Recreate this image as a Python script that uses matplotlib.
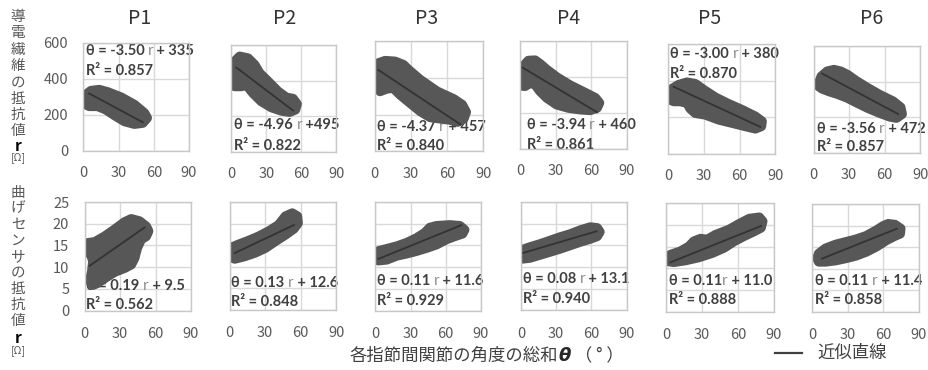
import numpy as np
import matplotlib.pyplot as plt

plt.rcParams['font.family'] = ['Noto Sans CJK JP', 'DejaVu Sans']

panels = ["P1", "P2", "P3", "P4", "P5", "P6"]
theta_ticks = [0, 30, 60, 90]
fiber_ticks = [0, 200, 400, 600]
bend_ticks = [0, 5, 10, 15, 20, 25]

# outline of each point cloud (theta, r)
fiber_x = [
    [1, 2.0, 6.3, 13.4, 20.6, 32, 43.4, 52, 54.3, 50.6, 43.4, 34.9, 26.3, 19.1, 12, 4.9, 1.2],
    [0.6, 2.9, 7.2, 14.3, 20, 24.3, 31.5, 40, 47.1, 52.9, 56.3, 54.9, 50, 42.9, 34.3, 25.7, 18.6, 12.9, 8.6, 2.9, 0],
    [0.3, 3, 8.6, 16.9, 23.8, 28, 37.8, 51.7, 65.5, 72.5, 75.8, 73.8, 68.8, 62.7, 54.4, 46.1, 37.8, 29.4, 21.1, 15.5, 10, 4.4, 1.7, 0.3],
    [0, 0.3, 2.6, 6.8, 12.5, 16.7, 22.4, 30.9, 42.2, 53.6, 63.5, 66.9, 64.9, 59.2, 50.7, 40.8, 30.9, 22.4, 16.7, 12.5, 8.2, 4, 0],
    [0.7, 3, 8.6, 15.6, 22.6, 29.7, 39.5, 50.7, 62, 73.2, 78.8, 78.2, 73.2, 64.7, 53.5, 42.3, 31, 22.6, 18.4, 15.6, 9.9, 4.4, 1.3],
    [4.3, 6.5, 11.4, 17.1, 22.8, 28.5, 35.7, 45.7, 55.7, 67.1, 73.4, 74.6, 69.9, 64.3, 55.7, 45.7, 37.1, 28.5, 20, 12.9, 7.1, 4.3],
]
fiber_y = [
    [283, 311, 333, 339, 326, 297, 256, 209, 182, 154, 148, 163, 197, 228, 247, 247, 259],
    [470, 508, 536, 526, 489, 442, 396, 340, 306, 299, 269, 237, 224, 231, 250, 284, 330, 377, 368, 368, 405],
    [454, 481, 494, 490, 472, 445, 390, 327, 285, 254, 214, 178, 160, 171, 178, 185, 218, 263, 308, 345, 341, 327, 354, 409],
    [376, 413, 460, 491, 493, 473, 441, 399, 354, 317, 284, 256, 228, 215, 219, 228, 246, 284, 321, 358, 367, 349, 352],
    [314, 356, 378, 391, 383, 350, 309, 273, 241, 205, 178, 151, 138, 151, 169, 187, 214, 223, 247, 278, 287, 287, 296],
    [393, 431, 459, 468, 459, 440, 406, 365, 327, 290, 256, 218, 196, 203, 224, 252, 280, 309, 331, 346, 361, 374],
]
bend_x = [
    [0.7, 2.9, 8.6, 17, 25.5, 33.9, 39.5, 46.5, 52.1, 54.1, 52.1, 47.9, 44.5, 42.3, 39.5, 33.9, 25.5, 18.4, 11.4, 7.2, 4.4, 6.3, 7.2, 5.2, 1.5],
    [0, 2, 7.1, 15.7, 24.3, 32.8, 41.4, 47.1, 52.8, 57.1, 57.7, 54.2, 47.1, 38.6, 30, 21.4, 12.9, 4.3, 0.5],
    [0, 2.6, 9.7, 18.2, 26.7, 35.2, 42.2, 46.5, 52.2, 63.5, 72, 76, 74.3, 67.7, 60.7, 52.2, 43.7, 35.2, 26.7, 18.2, 9.7, 2.6],
    [0, 1.5, 7.7, 16.3, 24.9, 33.4, 42, 50.6, 59.1, 64.9, 67.1, 64.9, 59.1, 50.6, 42, 33.4, 24.9, 16.3, 7.7, 1.5],
    [0.4, 3.2, 11.7, 18.8, 23, 28.6, 34.2, 41.2, 52.6, 61, 69.5, 77.9, 80.7, 79.3, 73.7, 65.2, 56.8, 48.3, 38.4, 27.2, 15.9, 6.1, 1.3],
    [4.3, 5.7, 11.4, 20, 28.5, 37.1, 45.7, 54.3, 60, 64.3, 70, 74.8, 74.3, 70, 62.8, 54.3, 45.7, 37.1, 28.5, 20, 11.4, 5.7],
]
bend_y = [
    [14.6, 15.6, 15.8, 17.1, 18.7, 20.4, 21.1, 20.6, 19.4, 18.3, 17.1, 16.4, 14.4, 12.1, 10.6, 9.8, 8.9, 7.7, 6.4, 5.9, 6.8, 9.1, 11.4, 13.1, 13.5],
    [13.2, 14.5, 15.1, 16, 17, 18.2, 19.7, 21.7, 22.4, 21.7, 20.1, 18.8, 17.4, 15.9, 14.3, 13.2, 12.4, 11.8, 12.2],
    [12.5, 13.7, 14.2, 14.8, 15.6, 16.7, 17.9, 19.1, 19.5, 19.7, 19.5, 18.6, 17.7, 17.1, 16.4, 15.2, 14.4, 13.7, 13.1, 12.6, 11.7, 11.5],
    [12.8, 14, 14.6, 15.3, 16.1, 16.9, 17.6, 18.5, 19.2, 19, 18.1, 17.1, 16.5, 15.8, 15, 14.2, 13.5, 12.8, 12.1, 11.9],
    [12.2, 13.1, 13.9, 15, 16.2, 16.8, 16.6, 17.7, 18.9, 20.2, 21.4, 21.7, 20.8, 19.3, 18.5, 17.4, 16.2, 14.7, 13.5, 12.5, 11.8, 11.4, 11.6],
    [12.4, 13.5, 14.7, 15.6, 16.2, 16.8, 17.6, 18.9, 19.9, 20.4, 20.2, 19.3, 18.1, 17.6, 16.6, 15.1, 13.9, 13, 12.4, 11.9, 11.6, 11.6],
]

# linear fits
fiber_slope = [-3.50, -4.96, -4.37, -3.94, -3.00, -3.56]
fiber_icpt = [335, 495, 457, 460, 380, 472]
fiber_r2 = [0.857, 0.822, 0.840, 0.861, 0.870, 0.857]
fiber_fit_from = [4.9, 4.3, 3, 2, 4.4, 7.1]
fiber_fit_to = [50.6, 52.9, 71, 64.9, 77.4, 71.4]
fiber_eq_left = ["θ = -3.50 ", "θ = -4.96 ", "θ = -4.37 ", "θ = -3.94 ", "θ = -3.00 ", "θ = -3.56 "]
fiber_eq_right = [" + 335", " +495", " + 457", " + 460", " + 380", " + 472"]

bend_slope = [0.19, 0.13, 0.11, 0.08, 0.11, 0.11]
bend_icpt = [9.5, 12.6, 11.6, 13.1, 11.0, 11.4]
bend_r2 = [0.562, 0.848, 0.929, 0.940, 0.888, 0.858]
bend_fit_from = [4.4, 4.3, 2.6, 2, 3.2, 8.6]
bend_fit_to = [50.7, 54.3, 73.4, 64.3, 79.3, 71.4]
bend_eq_left = ["θ = 0.19 ", "θ = 0.13 ", "θ = 0.11 ", "θ = 0.08 ", "θ = 0.11", "θ = 0.11 "]
bend_eq_right = [" + 9.5", " + 12.6", " + 11.6", " + 13.1", " + 11.0", " + 11.4"]

BLOB = "#575757"
LINE = "#333333"
GRID = "#d9d9d9"
TICK = "#595959"
EQ_FONT = ['Lato', 'Noto Sans CJK JP']

W, H = 929, 370
fig = plt.figure(figsize=(W / 100, H / 100), dpi=100)

# panel boxes in pixels: left, top, right, bottom
fiber_boxes = [(83.5, 42.7, 189, 150.7), (231.3, 45, 336.3, 152), (374.7, 41.3, 483.3, 151.3),
               (520.3, 41, 626.7, 149), (668.5, 44, 775.3, 154), (813.7, 46.3, 920.3, 152.8)]
bend_boxes = [(84.5, 202, 191, 310.7), (229.7, 202, 336.3, 309.7), (375.3, 202, 481, 310.5),
              (521, 202, 626.7, 310.3), (666.5, 203, 773.7, 311.8), (812, 204, 918.7, 311.8)]
fiber_eq_pos = [(0.02, 0.92, 0.74), (0.03, 0.25, 0.06), (0.02, 0.22, 0.045),
                (0.06, 0.22, 0.04), (0.017, 0.91, 0.73), (0.03, 0.226, 0.05)]
bend_eq_pos = [(0.017, 0.224, 0.05), (0.015, 0.248, 0.07), (0.013, 0.27, 0.085),
               (0.02, 0.29, 0.107), (0.02, 0.286, 0.108), (0.03, 0.286, 0.108)]
title_x = [140, 285, 427, 569, 710, 872]


def add_box(box):
    l, t, r, b = box
    return fig.add_axes([l / W, 1 - b / H, (r - l) / W, (b - t) / H])


def equation(ax, pos, left, right, r2):
    x, y1, y2 = pos
    kw = dict(fontfamily=EQ_FONT, fontsize=10.5, fontweight='bold', color='#404040', zorder=1)
    t = ax.text(x, y1, left, transform=ax.transAxes, va='center', ha='left', **kw)
    t = ax.annotate("r", xy=(1, 0), xycoords=t, va='bottom', ha='left', fontfamily=EQ_FONT,
                    fontsize=11, color='#8c8c8c', zorder=1)
    ax.annotate(right, xy=(1, 0), xycoords=t, va='bottom', ha='left', **kw)
    ax.text(x, y2, f"R² = {r2:.3f}", transform=ax.transAxes, va='center', ha='left', **kw)


def panel(ax, xs, ys, a, b, x0, x1, yticks, first, pad_x):
    ax.fill(xs, ys, fc=BLOB, ec=BLOB, lw=7, joinstyle='round', zorder=2)
    ax.plot([x0, x1], [a * x0 + b, a * x1 + b], color=LINE, lw=1.3, zorder=3)
    ax.set_xlim(0, 90)
    ax.set_ylim(yticks[0], yticks[-1])
    ax.set_xticks(theta_ticks)
    ax.set_yticks(yticks)
    ax.grid(color=GRID, lw=1)
    ax.set_axisbelow(True)
    for s in ax.spines.values():
        s.set_color("#c8c8c8")
        s.set_linewidth(1)
    ax.tick_params(axis='x', length=0, pad=pad_x, labelsize=10.5, labelcolor=TICK)
    ax.tick_params(axis='y', length=0, pad=11, labelsize=10.5, labelcolor=TICK, labelleft=first)


for i in range(6):
    ax = add_box(fiber_boxes[i])
    panel(ax, fiber_x[i], fiber_y[i], fiber_slope[i], fiber_icpt[i],
          fiber_fit_from[i], fiber_fit_to[i], fiber_ticks, i == 0, 11)
    equation(ax, fiber_eq_pos[i], fiber_eq_left[i], fiber_eq_right[i], fiber_r2[i])

    ax = add_box(bend_boxes[i])
    panel(ax, bend_x[i], bend_y[i], bend_slope[i], bend_icpt[i],
          bend_fit_from[i], bend_fit_to[i], bend_ticks, i == 0, 12)
    equation(ax, bend_eq_pos[i], bend_eq_left[i], bend_eq_right[i], bend_r2[i])

    fig.text(title_x[i] / W, 1 - 18 / H, panels[i], ha='center', va='center',
             fontsize=14, color='#333333')

# vertical y labels
for k, ch in enumerate("導電繊維の抵抗値"):
    fig.text(18 / W, 1 - (17 + 16.3 * k) / H, ch, ha='center', va='center', fontsize=10.5, color=TICK)
fig.text(18 / W, 1 - 146 / H, "r", ha='center', va='center', fontsize=11, fontweight='bold', color='black')
fig.text(18 / W, 1 - 158 / H, "[Ω]", ha='center', va='center', fontsize=7.5, color=TICK)

for k, ch in enumerate("曲げセンサの抵抗値"):
    fig.text(18 / W, 1 - (193 + 16 * k) / H, ch, ha='center', va='center', fontsize=10.5, color=TICK)
fig.text(18 / W, 1 - 338 / H, "r", ha='center', va='center', fontsize=11, fontweight='bold', color='black')
fig.text(18 / W, 1 - 351 / H, "[Ω]", ha='center', va='center', fontsize=7.5, color=TICK)

# x label
xl = fig.text(350 / W, 1 - 356 / H, "各指節間関節の角度の総和", ha='left', va='center',
              fontsize=12.5, color='#404040')
th = plt.annotate("θ", xy=(1, 0), xycoords=xl, va='bottom', ha='left', fontsize=13,
                  fontweight='bold', fontstyle='italic', color='#262626',
                  fontfamily=['DejaVu Sans'], annotation_clip=False)
plt.annotate(" （ ° ）", xy=(1, 0), xycoords=th, va='bottom', ha='left', fontsize=12.5,
             color='#404040', annotation_clip=False)

# legend
fig.add_artist(plt.Line2D([775 / W, 802 / W], [1 - 353 / H, 1 - 353 / H], color='#404040', lw=1.6))
fig.text(817 / W, 1 - 353 / H, "近似直線", ha='left', va='center', fontsize=12.5, color='#404040')

fig.savefig("out.png", dpi=100)
